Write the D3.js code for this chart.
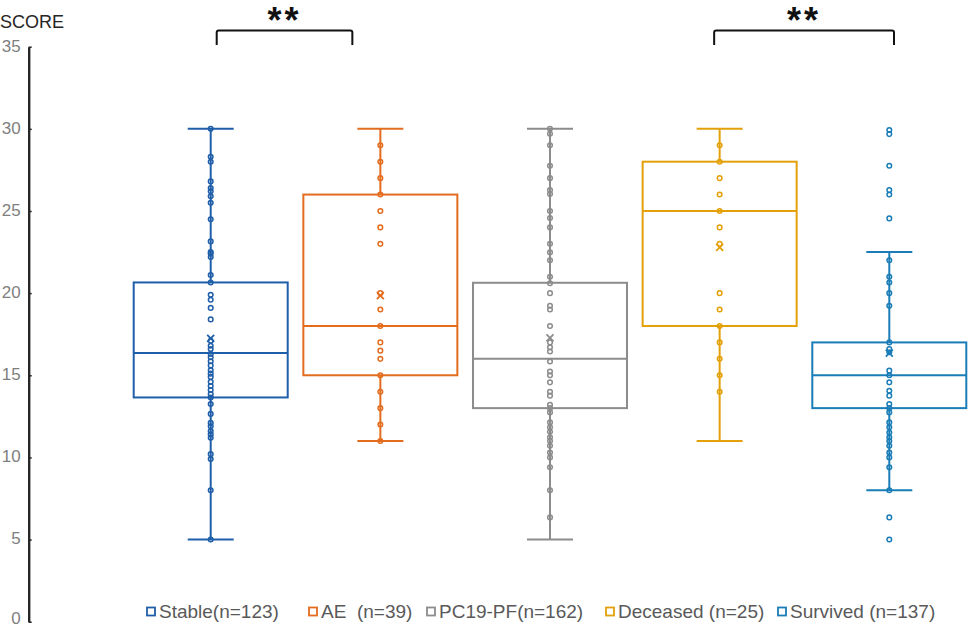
<!DOCTYPE html>
<html>
<head>
<meta charset="utf-8">
<script src="https://cdn.jsdelivr.net/npm/d3@7"></script>
<style>
  html, body { margin: 0; padding: 0; background: #fff; }
  svg { display: block; }
  text { font-family: "Liberation Sans", Arial, sans-serif; }
</style>
</head>
<body>
<svg id="chart" width="969" height="628"></svg>
<script>
// ---------- DATA ----------
const categories = ["Stable(n=123)", "AE  (n=39)", "PC19-PF(n=162)", "Deceased (n=25)", "Survived (n=137)"];
const whiskerLow  = [5, 11, 5, 11, 8];
const q1          = [13.65, 15, 13, 18, 13];
const median      = [16.35, 18, 16, 25, 15];
const q3          = [20.65, 26, 20.63, 28, 17];
const whiskerHigh = [30, 30, 30, 30, 22.5];
const means       = [17.25, 19.85, 17.27, 22.78, 16.35];

const stablePoints = [30, 28.3, 28, 26.8, 26.4, 26.2, 25.9, 25.5, 24.5, 23.15, 22.5, 22.4, 22.2, 21.1, 20.65,
  19.9, 19.6, 19.1, 18.4, 17.1, 16.8, 16.6, 16.3, 16.1, 15.85, 15.6, 15.3, 15.1, 14.9, 14.6, 14.35, 14.1,
  13.85, 13.65, 13.25, 12.65, 12.1, 11.9, 11.6, 11.4, 11.2, 10.2, 9.9, 8, 5];
const aePoints = [29, 28, 27, 26, 25, 24, 23, 20, 19, 18, 17, 16.5, 16, 15, 14, 13, 12, 11];
const pcPoints = [30, 29.7, 29, 27.75, 27, 26.27, 26.03, 25, 24.57, 24, 23, 22.48, 22, 21, 20.6, 20, 19.23,
  19, 18, 17, 16.7, 16.45, 15.84, 15.23, 15, 14.57, 14, 13.76, 13.2, 13, 12.74, 12.13, 11.83, 11.56, 11.22,
  11, 10.71, 10.3, 10, 9.4, 8, 6.35];
const deceasedPoints = [29, 28, 27, 26, 25, 24, 23, 20, 19, 18, 17, 16, 15, 14];
const survivedPoints = [29.93, 29.68, 27.75, 26.27, 26, 24.55, 22, 21, 20.65, 20, 19.23, 17, 16.6, 16.4,
  15.28, 15, 14.57, 14.06, 13.76, 13.25, 13, 12.74, 12.13, 11.83, 11.52, 11.22, 11, 10.71, 10.3, 10, 9.4,
  8, 6.35, 5];
const pointSets = [stablePoints, aePoints, pcPoints, deceasedPoints, survivedPoints];

const yTicks = [0, 5, 10, 15, 20, 25, 30, 35];
const yLabel = "SCORE";
const sigLabel = "**";
const comparisons = [[0, 1], [3, 4]];

// ---------- STYLE / LAYOUT ----------
const colors = ["#1f5ea8", "#e36c1e", "#8c8c8c", "#e3a008", "#1a7db7"];
const legendX = [146, 308, 426, 605, 777];
const bracketOffsets = [[6, -28], [-5.5, 4.7]];
const boxWidth = 154, capHalf = 23;

const svg = d3.select("#chart");
const y = d3.scaleLinear().domain([0, 35]).range([621.7, 46.7]);
const x = d3.scalePoint().domain(categories).range([210.7, 889.3]);

// Y axis
const axisX = 28.7;
const yAxis = d3.axisLeft(y).tickValues(yTicks).tickSize(0).tickPadding(8);
const gAxis = svg.append("g").attr("transform", `translate(${axisX},0)`).call(yAxis);
gAxis.select(".domain").attr("stroke", "#262626").attr("stroke-width", 2.4);
gAxis.selectAll(".tick text")
  .attr("fill", "#7f7f7f").attr("font-size", 17)
  .attr("font-family", "Liberation Sans, Arial, sans-serif")
  .attr("dy", d => d === 0 ? "0.12em" : "0.26em");
gAxis.selectAll(".tick").append("line")
  .attr("x1", 0).attr("x2", 3).attr("stroke", "#262626").attr("stroke-width", 1.5);

svg.append("text").attr("x", 0).attr("y", 28).attr("font-size", 18).attr("fill", "#262626").text(yLabel);

// Boxes
categories.forEach((c, i) => {
  const cx = x(c), col = colors[i];
  const g = svg.append("g");
  g.append("rect")
    .attr("x", cx - boxWidth / 2).attr("width", boxWidth)
    .attr("y", y(q3[i])).attr("height", y(q1[i]) - y(q3[i]))
    .attr("fill", "none").attr("stroke", col).attr("stroke-width", 2);
  g.append("line").attr("x1", cx - boxWidth / 2).attr("x2", cx + boxWidth / 2)
    .attr("y1", y(median[i])).attr("y2", y(median[i]))
    .attr("stroke", col).attr("stroke-width", 2);
  [[whiskerHigh[i], q3[i]], [q1[i], whiskerLow[i]]].forEach(([a, b]) => {
    g.append("line").attr("x1", cx).attr("x2", cx).attr("y1", y(a)).attr("y2", y(b))
      .attr("stroke", col).attr("stroke-width", 2);
  });
  [whiskerHigh[i], whiskerLow[i]].forEach(v => {
    g.append("line").attr("x1", cx - capHalf).attr("x2", cx + capHalf)
      .attr("y1", y(v)).attr("y2", y(v)).attr("stroke", col).attr("stroke-width", 2);
  });
  g.selectAll("circle.pt").data(pointSets[i]).join("circle")
    .attr("class", "pt")
    .attr("cx", cx).attr("cy", d => y(d)).attr("r", 2.3)
    .attr("fill", "none").attr("stroke", col).attr("stroke-width", 1.5);
  const my = y(means[i]), s = 3.5;
  g.append("path")
    .attr("d", `M${cx - s},${my - s}L${cx + s},${my + s}M${cx - s},${my + s}L${cx + s},${my - s}`)
    .attr("stroke", col).attr("stroke-width", 1.8).attr("fill", "none");
});

// Significance brackets
comparisons.forEach(([a, b], k) => {
  const x1 = x(categories[a]) + bracketOffsets[k][0];
  const x2 = x(categories[b]) + bracketOffsets[k][1];
  const top = 30.5, bot = 45;
  svg.append("path")
    .attr("d", `M${x1},${bot}L${x1},${top + 2}Q${x1},${top} ${x1 + 2},${top}L${x2 - 2},${top}Q${x2},${top} ${x2},${top + 2}L${x2},${bot}`)
    .attr("fill", "none").attr("stroke", "#111").attr("stroke-width", 2);
  svg.append("text")
    .attr("x", (x1 + x2) / 2).attr("y", 33)
    .attr("text-anchor", "middle").attr("font-size", 36).attr("font-weight", "bold")
    .attr("letter-spacing", 3)
    .attr("fill", "#111").text(sigLabel);
});

// Legend
categories.forEach((c, i) => {
  const lx = legendX[i];
  svg.append("rect").attr("x", lx + 1).attr("y", 607.5).attr("width", 8).attr("height", 8)
    .attr("fill", "none").attr("stroke", colors[i]).attr("stroke-width", 1.8);
  svg.append("text").attr("x", lx + 13).attr("y", 618).attr("font-size", 19)
    .attr("fill", "#595959").style("white-space", "pre").attr("xml:space", "preserve").text(c);
});
</script>
</body>
</html>
